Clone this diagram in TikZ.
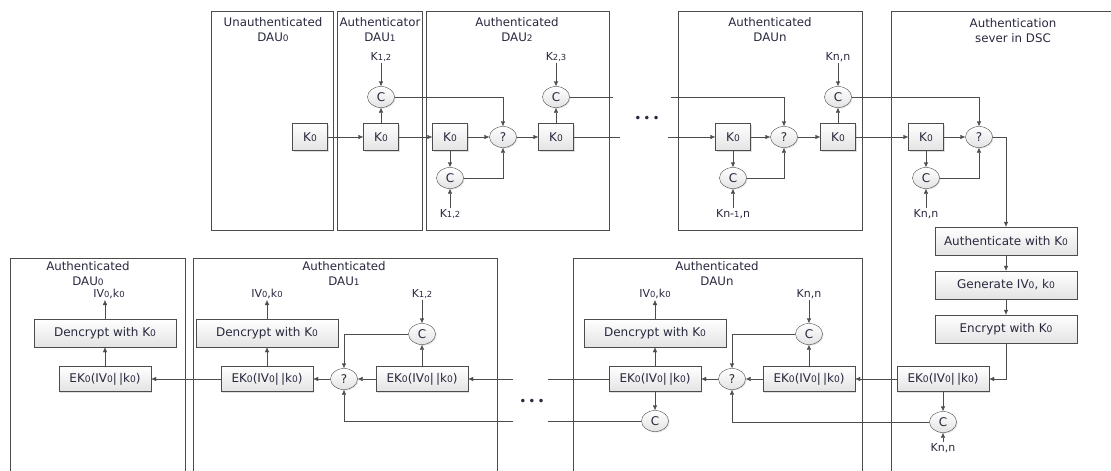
\documentclass[tikz,border=0pt]{standalone}
\usepackage{fontspec}
\setmainfont{DejaVu Sans}
\usepackage{tikz}
\usetikzlibrary{positioning}
\usetikzlibrary{shapes,arrows,calc,arrows.meta,shadows}

\definecolor{txtc}{HTML}{28283E}
\definecolor{linec}{HTML}{4C4C4C}
% small (old-style looking) figures
\newcommand{\lo}[1]{\scalebox{0.76}{#1}}

\begin{document}
\begin{tikzpicture}[x=1pt, y=-1pt,
    font=\fontsize{12}{15}\selectfont, text=txtc,
    frame/.style={draw=linec, line width=0.8pt},
    title/.style={align=center, font=\fontsize{11.8}{15}\selectfont},
    kbox/.style={draw=linec, rectangle, top color=white, bottom color=gray!22,
        minimum width=35pt, minimum height=27pt, inner sep=1pt,
        drop shadow={shadow xshift=1pt, shadow yshift=-1pt, opacity=0.25}},
    ebox/.style={kbox, minimum width=92pt, minimum height=25pt},
    wbox/.style={kbox, minimum width=142pt, minimum height=28pt},
    cnode/.style={draw=linec, ellipse, top color=white, bottom color=gray!22,
        minimum width=27pt, minimum height=21pt, inner sep=0pt,
        drop shadow={shadow xshift=1pt, shadow yshift=-1pt, opacity=0.25}},
    lbl/.style={inner sep=1pt, font=\fontsize{11}{11}\selectfont},
    arr/.style={draw=linec, -{Latex[length=5pt,width=4.5pt]}},
    ln/.style={draw=linec}]
    \useasboundingbox (0,0) rectangle (1111,471);

    % Frames
    \draw [frame] (211,11) rectangle (333,230);
    \draw [frame] (337,11) rectangle (422,230);
    \draw [frame] (426,11) rectangle (609,230);
    \draw [frame] (678,11) rectangle (862,230);
    \draw [frame] (891,472) -- (891,11) -- (1112,11);
    \draw [frame] (10,472) -- (10,258) -- (185,258) -- (185,472);
    \draw [frame] (193,472) -- (193,258) -- (497,258) -- (497,472);
    \draw [frame] (573,472) -- (573,258) -- (862,258) -- (862,472);

    % Titles
    \node [title] (tdau0) at (273,30) {Unauthenticated\\DAU\lo{0}};
    \node [title] (tdau1) at (380,30) {Authenticator\\DAU\lo{1}};
    \node [title] (tdau2) at (517,30) {Authenticated\\DAU\lo{2}};
    \node [title] (tdaun) at (770,30) {Authenticated\\DAUn};
    \node [title] (tserv) at (1013,31) {Authentication\\sever in DSC};
    \node [title] (bdau0) at (88,274) {Authenticated\\DAU\lo{0}};
    \node [title] (bdau1) at (344,274) {Authenticated\\DAU\lo{1}};
    \node [title] (bdaun) at (717,274) {Authenticated\\DAUn};

    % Nodes, upper row
    \node [kbox] (k00) at (310,137) {K\lo{0}};
    \node [kbox] (k10) at (381,137) {K\lo{0}};
    \node [cnode] (c10) at (381,97) {C};
    \node [lbl] (l10) at (381,57) {K\lo{1,2}};
    \node [kbox] (k20) at (450,137) {K\lo{0}};
    \node [cnode] (c20) at (450,178) {C};
    \node [lbl] (l20) at (450,214) {K\lo{1,2}};
    \node [cnode] (q20) at (503,137) {?};
    \node [kbox] (k21) at (556,137) {K\lo{0}};
    \node [cnode] (c21) at (556,97) {C};
    \node [lbl] (l21) at (556,57) {K\lo{2,3}};
    \coordinate (t2a) at (613,97);
    \coordinate (t2b) at (620,137);
    \node [font=\fontsize{12}{12}\selectfont] (dotsa) at (647,119) {•\,•\,•};
    \coordinate (tna) at (671,97);
    \coordinate (tnb) at (668,137);
    \node [kbox] (kn0) at (733,137) {K\lo{0}};
    \node [cnode] (cn0) at (733,178) {C};
    \node [lbl] (ln0) at (733,214) {Kn-\lo{1},n};
    \node [cnode] (qn0) at (784,137) {?};
    \node [kbox] (kn1) at (838,137) {K\lo{0}};
    \node [cnode] (cn1) at (838,97) {C};
    \node [lbl] (ln1) at (838,57) {Kn,n};
    \node [kbox] (ks0) at (926,137) {K\lo{0}};
    \node [cnode] (cs0) at (926,178) {C};
    \node [lbl] (ls0) at (926,214) {Kn,n};
    \node [cnode] (qs0) at (979,137) {?};

    % Nodes, server
    \node [wbox] (auth) at (1006,241) {Authenticate with K\lo{0}};
    \node [wbox] (gen) at (1006,285) {Generate IV\lo{0}, k\lo{0}};
    \node [wbox] (enc) at (1006,329) {Encrypt with K\lo{0}};
    \node [ebox] (es0) at (943,379) {EK\lo{0}(IV\lo{0}|\,|k\lo{0})};
    \node [cnode] (cs1) at (943,422) {C};
    \node [lbl] (ls1) at (943,448) {Kn,n};

    % Nodes, lower row
    \node [ebox] (en1) at (809,379) {EK\lo{0}(IV\lo{0}|\,|k\lo{0})};
    \node [cnode] (cbn) at (809,334) {C};
    \node [lbl] (lbn) at (809,294) {Kn,n};
    \node [cnode] (qbn) at (732,379) {?};
    \node [ebox] (en0) at (655,379) {EK\lo{0}(IV\lo{0}|\,|k\lo{0})};
    \node [wbox] (dn) at (655,333) {Dencrypt with K\lo{0}};
    \node [lbl] (ivn) at (655,294) {IV\lo{0},k\lo{0}};
    \node [cnode] (cbn2) at (655,421) {C};
    \coordinate (bna) at (548,379);
    \coordinate (bnb) at (548,421);
    \node [font=\fontsize{12}{12}\selectfont] (dotsb) at (532,402) {•\,•\,•};
    \coordinate (b1a) at (513,379);
    \coordinate (b1b) at (513,421);
    \node [ebox] (e11) at (422,379) {EK\lo{0}(IV\lo{0}|\,|k\lo{0})};
    \node [cnode] (cb1) at (422,334) {C};
    \node [lbl] (lb1) at (422,294) {K\lo{1,2}};
    \node [cnode] (qb1) at (344,379) {?};
    \node [ebox] (e10) at (267,379) {EK\lo{0}(IV\lo{0}|\,|k\lo{0})};
    \node [wbox] (d1) at (267,333) {Dencrypt with K\lo{0}};
    \node [lbl] (iv1) at (267,294) {IV\lo{0},k\lo{0}};
    \node [ebox] (e0) at (105,379) {EK\lo{0}(IV\lo{0}|\,|k\lo{0})};
    \node [wbox] (d0) at (105,333) {Dencrypt with K\lo{0}};
    \node [lbl] (iv0) at (109,294) {IV\lo{0},k\lo{0}};

    % Arrows, upper row
    \draw [arr] (k00) -- (k10);
    \draw [arr] (k10) -- (c10);
    \draw [arr] (l10) -- (c10);
    \draw [arr] (k10) -- (k20);
    \draw [arr] (c10) -| (q20);
    \draw [arr] (k20) -- (q20);
    \draw [arr] (k20) -- (c20);
    \draw [arr] (l20) -- (c20);
    \draw [arr] (c20) -| (q20);
    \draw [arr] (q20) -- (k21);
    \draw [arr] (k21) -- (c21);
    \draw [arr] (l21) -- (c21);
    \draw [ln] (c21) -- (t2a);
    \draw [ln] (k21) -- (t2b);
    \draw [arr] (tna) -| (qn0);
    \draw [arr] (tnb) -- (kn0);
    \draw [arr] (kn0) -- (qn0);
    \draw [arr] (kn0) -- (cn0);
    \draw [arr] (ln0) -- (cn0);
    \draw [arr] (cn0) -| (qn0);
    \draw [arr] (qn0) -- (kn1);
    \draw [arr] (kn1) -- (cn1);
    \draw [arr] (ln1) -- (cn1);
    \draw [arr] (kn1) -- (ks0);
    \draw [arr] (cn1) -| (qs0);
    \draw [arr] (ks0) -- (qs0);
    \draw [arr] (ks0) -- (cs0);
    \draw [arr] (ls0) -- (cs0);
    \draw [arr] (cs0) -| (qs0);

    % Arrows, server
    \draw [arr] (qs0) -| (auth);
    \draw [arr] (auth) -- (gen);
    \draw [arr] (gen) -- (enc);
    \draw [arr] (enc) |- (es0);
    \draw [arr] (es0) -- (cs1);
    \draw [arr] (ls1) -- (cs1);

    % Arrows, lower row
    \draw [arr] (es0) -- (en1);
    \draw [arr] (cs1) -| (qbn);
    \draw [arr] (en1) -- (qbn);
    \draw [arr] (en1) -- (cbn);
    \draw [arr] (lbn) -- (cbn);
    \draw [arr] (cbn) -| (qbn);
    \draw [arr] (qbn) -- (en0);
    \draw [arr] (en0) -- (dn);
    \draw [arr] (dn) -- (dn |- ivn.south);
    \draw [arr] (en0) -- (cbn2);
    \draw [ln] (en0) -- (bna);
    \draw [ln] (cbn2) -- (bnb);
    \draw [arr] (b1a) -- (e11);
    \draw [arr] (b1b) -| (qb1);
    \draw [arr] (e11) -- (qb1);
    \draw [arr] (e11) -- (cb1);
    \draw [arr] (lb1) -- (cb1);
    \draw [arr] (cb1) -| (qb1);
    \draw [arr] (qb1) -- (e10);
    \draw [arr] (e10) -- (d1);
    \draw [arr] (d1) -- (d1 |- iv1.south);
    \draw [arr] (e10) -- (e0);
    \draw [arr] (e0) -- (d0);
    \draw [arr] (d0) -- (d0 |- iv0.south);
\end{tikzpicture}
\end{document}
